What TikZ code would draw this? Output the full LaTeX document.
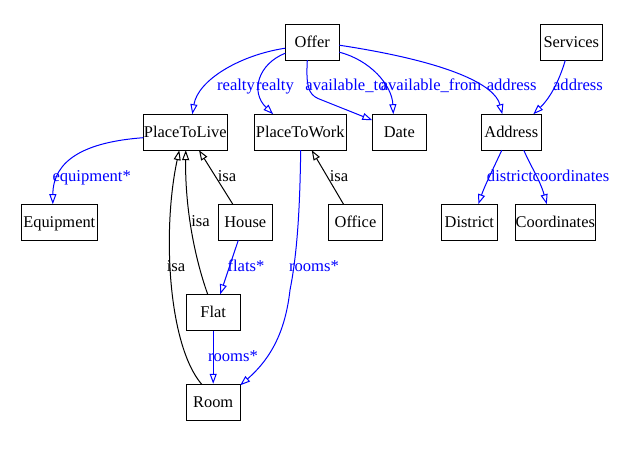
\documentclass[tikz,border=0pt]{standalone}
\usepackage{fontspec}
\setmainfont{Liberation Serif}
\usetikzlibrary{arrows.meta,calc}
\begin{document}
\begin{tikzpicture}[x=1pt,y=-1pt,
  box/.style={draw, line width=1pt, inner sep=0pt, minimum height=36pt, text height=11pt, text depth=1pt, font=\fontsize{16.4}{19}\selectfont},
  rel/.style={draw=blue, line width=1pt, -{Triangle[open,length=10pt,width=7pt]}},
  isarel/.style={draw=black, line width=1pt, -{Triangle[open,length=10pt,width=7pt]}},
  lb/.style={text=blue, anchor=base, inner sep=0pt, font=\fontsize{16.6}{19}\selectfont},
  lk/.style={text=black, anchor=base, inner sep=0pt, font=\fontsize{16.6}{19}\selectfont}]
\useasboundingbox (0,0) rectangle (643,452);
\node[box, minimum width=54pt] (Offer) at (312.3,42.2) {Offer};
\node[box, minimum width=62pt] (Services) at (571.3,42.2) {Services};
\node[box, minimum width=84pt] (PlaceToLive) at (185.3,132.2) {PlaceToLive};
\node[box, minimum width=92pt] (PlaceToWork) at (300.2,132.2) {PlaceToWork};
\node[box, minimum width=54pt] (Date) at (399.3,132.2) {Date};
\node[box, minimum width=60pt] (Address) at (511.3,132.2) {Address};
\node[box, minimum width=76pt] (Equipment) at (59.3,222.2) {Equipment};
\node[box, minimum width=54pt] (House) at (245.3,222.2) {House};
\node[box, minimum width=54pt] (Office) at (355.5,222.2) {Office};
\node[box, minimum width=56pt] (District) at (469.3,222.2) {District};
\node[box, minimum width=80pt] (Coordinates) at (555.3,222.2) {Coordinates};
\node[box, minimum width=54pt] (Flat) at (213.2,312.3) {Flat};
\node[box, minimum width=54pt] (Room) at (213.2,402.3) {Room};

\draw[rel] ($(Offer)+(-27,6)$) .. controls (240,55) and (198,80) .. ($(PlaceToLive)+(7,-18)$) node[lb,at={(236,91)}] {realty};
\draw[rel] ($(Offer)+(-27,11)$) .. controls (258,64) and (250,92) .. ($(PlaceToWork)+(-27,-18)$) node[lb,at={(275,91)}] {realty};
\draw[rel] ($(Offer)+(-5,18)$) .. controls (306,85) and (308,94) .. (318,98.5) -- ($(Date)+(-27,-12)$) node[lb,at={(346,91)}] {available\_to};
\draw[rel] ($(Offer)+(27,10)$) .. controls (370,60) and (392,85) .. ($(Date)+(-6,-18)$) node[lb,at={(431,91)}] {available\_from};
\draw[rel] ($(Offer)+(27,3)$) .. controls (450,62) and (495,85) .. ($(Address)+(-9,-18)$) node[lb,at={(511.7,91)}] {address};
\draw[rel] ($(Services)+(-6,18)$) .. controls (558,85) and (548,100) .. ($(Address)+(22,-18)$) node[lb,at={(578,91)}] {address};
\draw[rel] ($(PlaceToLive)+(-42,5.5)$) .. controls (85,142) and (53,160) .. ($(Equipment)+(-6.5,-18)$) node[lb,at={(91.7,181.7)}] {equipment*};
\draw[isarel] ($(House)+(-12.5,-18)$) -- ($(PlaceToLive)+(13.7,18)$) node[lk,at={(227,181.7)}] {isa};
\draw[isarel] ($(Flat)+(-5.5,-18)$) .. controls (192,250) and (185,200) .. ($(PlaceToLive)+(0.5,18)$) node[lk,at={(200.5,226.7)}] {isa};
\draw[isarel] ($(Room)+(-11.5,-18)$) .. controls (168,345) and (162,230) .. ($(PlaceToLive)+(-6,18)$) node[lk,at={(176,271.7)}] {isa};
\draw[rel] ($(House)+(-7,18)$) -- ($(Flat)+(7,-18)$) node[lb,at={(246,271.7)}] {flats*};
\draw[rel] (Flat.south) -- (Room.north) node[lb,at={(233,361.7)}] {rooms*};
\draw[rel] ($(PlaceToWork)+(0.5,18)$) .. controls (300,200) and (298,250) .. (290,290) .. controls (286,325) and (275,355) .. ($(Room)+(27,-17)$) node[lb,at={(314,271.7)}] {rooms*};
\draw[isarel] ($(Office)+(-12,-18)$) -- ($(PlaceToWork)+(11.5,18)$) node[lk,at={(339,181.7)}] {isa};
\draw[rel] ($(Address)+(-9.5,18)$) .. controls (495,165) and (485,185) .. ($(District)+(9,-18)$) node[lb,at={(510,181.7)}] {district};
\draw[rel] ($(Address)+(12.5,18)$) .. controls (530,165) and (540,180) .. ($(Coordinates)+(-8.5,-18)$) node[lb,at={(571,181.7)}] {coordinates};
\end{tikzpicture}
\end{document}
